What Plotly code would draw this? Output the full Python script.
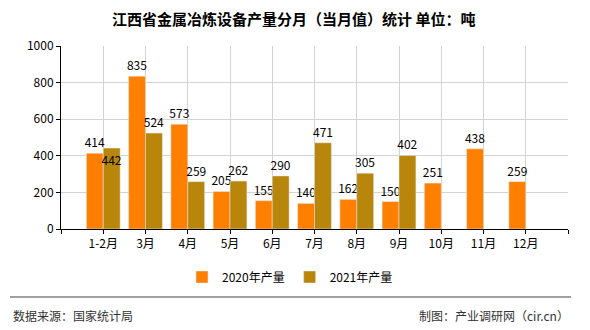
import plotly.graph_objects as go

categories = ["1-2月", "3月", "4月", "5月", "6月", "7月", "8月", "9月", "10月", "11月", "12月"]
values_2020 = [414, 835, 573, 205, 155, 140, 162, 150, 251, 438, 259]
values_2021 = [442, 524, 259, 262, 290, 471, 305, 402, None, None, None]
series_names = ["2020年产量", "2021年产量"]
y_ticks = [0, 200, 400, 600, 800, 1000]

FONT = "SimSun, 'Noto Sans CJK SC', sans-serif"
x_idx = list(range(len(categories)))

# first 2021 label sits just inside its bar, like the reference, to avoid overlapping 414
pos_2021 = ["inside"] + ["outside"] * (len(categories) - 1)

fig = go.Figure()
fig.add_trace(go.Bar(
    x=x_idx, y=values_2020, name=series_names[0], marker_color="#ff8000",
    text=[str(v) for v in values_2020], textposition="outside", constraintext="none",
    textangle=0,
    textfont=dict(size=12, color="#000000", family=FONT), cliponaxis=False,
))
fig.add_trace(go.Bar(
    x=x_idx, y=values_2021, name=series_names[1], marker_color="#b8860b",
    text=[str(v) if v is not None else "" for v in values_2021], textposition=pos_2021,
    insidetextanchor="end", constraintext="none", textangle=0,
    textfont=dict(size=12, color="#000000", family=FONT),
    insidetextfont=dict(size=12, color="#000000", family=FONT), cliponaxis=False,
))

L, R, T, B = 61, 568, 46, 229
W, H = 590, 330
pw, ph = R - L, B - T

def px(x):
    return (x - L) / pw

def py(y):
    return (B - y) / ph

tickvals = [-1] + x_idx + [len(categories)]
ticktext = [""] + categories + [""]

fig.update_layout(
    width=W, height=H,
    margin=dict(l=L, r=W - R, t=T, b=H - B, pad=0),
    paper_bgcolor="white", plot_bgcolor="white",
    barmode="group", bargap=0.2, bargroupgap=0,
    font=dict(family=FONT, size=12, color="#000000"),
    showlegend=True,
    legend=dict(orientation="h", x=px(290), y=py(277), xanchor="center", yanchor="middle",
                font=dict(size=12, color="#000000", family=FONT), itemwidth=30,
                bgcolor="rgba(0,0,0,0)"),
    xaxis=dict(range=[-1, len(categories)], tickmode="array", tickvals=tickvals, ticktext=ticktext,
               showgrid=True, gridcolor="#d3d3d3", gridwidth=1,
               showline=True, linecolor="#000000", linewidth=1,
               ticks="outside", ticklen=4, tickcolor="#000000",
               tickfont=dict(size=12, family=FONT), zeroline=False, fixedrange=True),
    yaxis=dict(range=[0, 1000], tickmode="array", tickvals=y_ticks,
               showgrid=True, gridcolor="#d3d3d3", gridwidth=1,
               showline=True, linecolor="#000000", linewidth=1,
               ticks="outside", ticklen=4, tickcolor="#000000",
               tickfont=dict(size=12, family=FONT), zeroline=False, fixedrange=True),
)

fig.add_annotation(text="<b>江西省金属冶炼设备产量分月（当月值）统计 单位：吨</b>",
                   xref="paper", yref="paper", x=px(293.5), y=py(18),
                   xanchor="center", yanchor="middle", showarrow=False,
                   font=dict(size=15, color="#000000", family=FONT))
fig.add_shape(type="line", xref="paper", yref="paper",
              x0=px(10), x1=px(571), y0=py(297), y1=py(297),
              line=dict(color="#808080", width=1.5))
fig.add_annotation(text="数据来源：国家统计局", xref="paper", yref="paper",
                   x=px(11), y=py(315), xanchor="left", yanchor="middle", showarrow=False,
                   font=dict(size=12, color="#333333", family=FONT))
fig.add_annotation(text="制图：产业调研网（cir.cn）", xref="paper", yref="paper",
                   x=px(571), y=py(315), xanchor="right", yanchor="middle", showarrow=False,
                   font=dict(size=12, color="#333333", family=FONT))

fig.write_html("out.html")
